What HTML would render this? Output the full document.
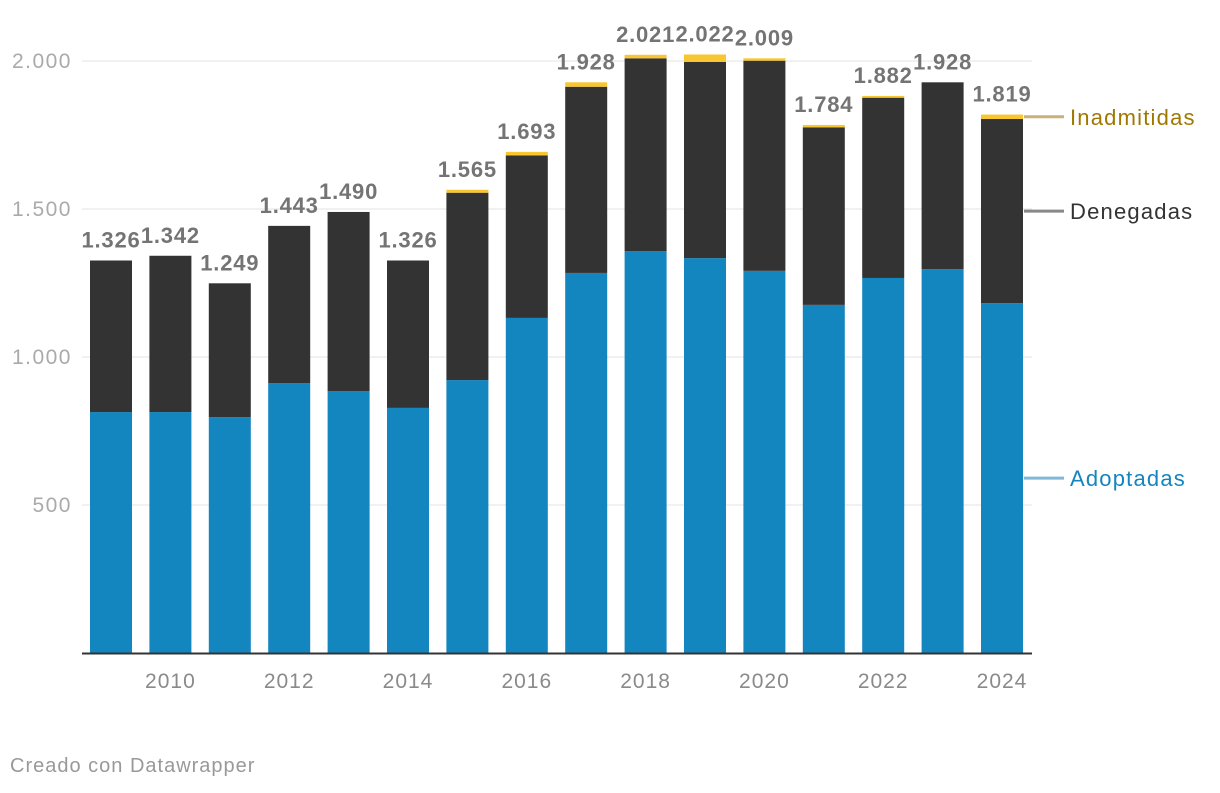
<!DOCTYPE html>
<html><head><meta charset="utf-8"><style>
body{margin:0;background:#fff;width:1220px;height:788px;overflow:hidden;font-family:"Liberation Sans",sans-serif}
</style></head><body>
<svg id="chart" width="1220" height="788" xmlns="http://www.w3.org/2000/svg"></svg>
<script>
const years=[2009,2010,2011,2012,2013,2014,2015,2016,2017,2018,2019,2020,2021,2022,2023,2024];
const totals=[1326,1342,1249,1443,1490,1326,1565,1693,1928,2021,2022,2009,1784,1882,1928,1819];
const adoptadas=[814,814,797,912,885,828,922,1132,1284,1358,1334,1291,1176,1267,1297,1182];
const inadmitidas=[0,0,0,0,0,0,10,12,15,12,25,8,8,6,0,15];
const yTicks=[500,1000,1500,2000];
const tickLabels=["500","1.000","1.500","2.000"];
const xLabelYears=[2010,2012,2014,2016,2018,2020,2022,2024];

const svg=document.getElementById('chart');
const NS='http://www.w3.org/2000/svg';
const y=v=>653-v*0.296;
const x=i=>111+i*59.4;
const bw=42;
function mk(tag,attrs,text){const e=document.createElementNS(NS,tag);for(const k in attrs)e.setAttribute(k,attrs[k]);if(text!==undefined)e.textContent=text;svg.appendChild(e);return e;}
yTicks.forEach((t,i)=>{
  const g=mk('line',{x1:82,x2:1032,y1:y(t),y2:y(t),stroke:'#e3e3e3','stroke-width':1});
  
  
  const l=mk('text',{x:72,y:y(t)+7,'text-anchor':'end','font-size':21,'letter-spacing':1.5,fill:'#aaa'},tickLabels[i]);
  
  
});
const fmt=v=>{const s=String(v);return s.length>3?s.slice(0,-3)+'.'+s.slice(-3):s;};
years.forEach((yr,i)=>{
  const a=adoptadas[i],n=inadmitidas[i],d=totals[i]-a-n;
  const r1=mk('rect',{x:x(i)-bw/2,y:y(a),width:bw,height:y(0)-y(a),fill:'#1385bf'});
  
  
  const r2=mk('rect',{x:x(i)-bw/2,y:y(a+d),width:bw,height:y(a)-y(a+d),fill:'#333333'});
  
  
  const r3=mk('rect',{x:x(i)-bw/2,y:y(totals[i]),width:bw,height:y(a+d)-y(totals[i]),fill:'#f8c630'});
  
  
  const t=mk('text',{x:x(i),y:y(totals[i])-13,'text-anchor':'middle','font-size':22,'letter-spacing':0.8,'font-weight':'bold',fill:'#747474'},fmt(totals[i]));
  
  
  if(xLabelYears.includes(yr)){
    const xl=mk('text',{x:x(i),y:688,'text-anchor':'middle','font-size':21,'letter-spacing':1,fill:'#8a8a8a'},String(yr));
    
    
  }
});
const ax=mk('line',{x1:82,x2:1032,y1:653.5,y2:653.5,stroke:'#333','stroke-width':2});


const last=years.length-1;
const legends=[
 ['Inadmitidas',totals[last]-inadmitidas[last]/2,'#c9b27a','#a07800'],
 ['Denegadas',(adoptadas[last]+totals[last]-inadmitidas[last])/2,'#888','#333'],
 ['Adoptadas',adoptadas[last]/2,'#7fb9d8','#1385bf']];
legends.forEach(([name,v,lc,tc])=>{
  const l=mk('line',{x1:1024,x2:1064,y1:y(v),y2:y(v),stroke:lc,'stroke-width':3});
  
  
  const t=mk('text',{x:1070,y:y(v)+8,'font-size':22,'letter-spacing':1.2,fill:tc},name);
  
  
});
const c=mk('text',{x:10,y:772,'font-size':20,'letter-spacing':1,fill:'#999'},'Creado con Datawrapper');


</script>
</body></html>
